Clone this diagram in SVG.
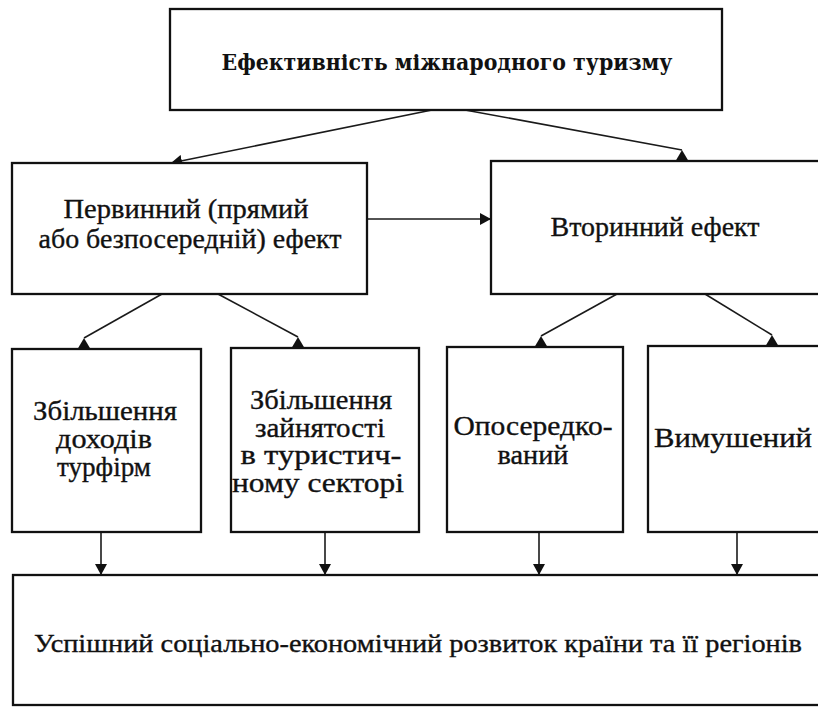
<svg xmlns="http://www.w3.org/2000/svg" width="818" height="707" viewBox="0 0 818 707">
  <style>
    .box { fill: #ffffff; stroke: #111111; stroke-width: 2.3; }
    .lbl { font-family: "Liberation Serif", "Times New Roman", serif; font-size: 27px; fill: #111111; stroke: #111111; stroke-width: 0.35; text-anchor: middle; }
    .big { font-family: "Liberation Serif", "Times New Roman", serif; font-size: 25px; fill: #111111; stroke: #111111; stroke-width: 0.35; text-anchor: middle; }
    .ttl { font-family: "DejaVu Serif", "Liberation Serif", serif; font-size: 23px; font-weight: bold; fill: #111111; text-anchor: middle; }
    .con { fill: none; stroke: #1a1a1a; stroke-width: 1.6; }
  </style>
  <defs>
    <!-- arrowhead that follows the line direction -->
    <marker id="arr" markerUnits="userSpaceOnUse" markerWidth="11" markerHeight="12" refX="11" refY="6" orient="auto">
      <path d="M0,0 L11,6 L0,12 Z" fill="#111111"/>
    </marker>
    <!-- upright triangle sitting on the box edge below the line end -->
    <marker id="up" markerUnits="userSpaceOnUse" markerWidth="13" markerHeight="11" refX="6.5" refY="0" orient="0">
      <path d="M6.5,0 L13,11 L0,11 Z" fill="#111111"/>
    </marker>
  </defs>
  <rect width="818" height="707" fill="#ffffff"/>

  <g id="connectors">
    <line class="con" x1="432" y1="110" x2="171" y2="163" marker-end="url(#arr)"/>
    <line class="con" x1="465" y1="110" x2="682" y2="150" marker-end="url(#up)"/>
    <line class="con" x1="367" y1="219" x2="491" y2="219" marker-end="url(#arr)"/>
    <line class="con" x1="162" y1="294" x2="84" y2="338" marker-end="url(#up)"/>
    <line class="con" x1="218" y1="294" x2="298" y2="337" marker-end="url(#up)"/>
    <line class="con" x1="617" y1="294" x2="541" y2="336" marker-end="url(#up)"/>
    <line class="con" x1="705" y1="294" x2="772" y2="335" marker-end="url(#up)"/>
    <line class="con" x1="101" y1="532" x2="101" y2="575" marker-end="url(#arr)"/>
    <line class="con" x1="325" y1="532" x2="325" y2="575" marker-end="url(#arr)"/>
    <line class="con" x1="539" y1="532" x2="539" y2="575" marker-end="url(#arr)"/>
    <line class="con" x1="737" y1="532" x2="737" y2="575" marker-end="url(#arr)"/>
  </g>

  <g id="node-top">
    <rect class="box" x="170" y="9" width="552" height="101"/>
    <text class="ttl" x="447" y="70" textLength="451" lengthAdjust="spacingAndGlyphs">Ефективність міжнародного туризму</text>
  </g>

  <g id="node-primary">
    <rect class="box" x="12" y="163" width="355" height="131"/>
    <text class="lbl" x="186" y="218" textLength="245" lengthAdjust="spacingAndGlyphs">Первинний (прямий</text>
    <text class="lbl" x="190" y="248" textLength="303" lengthAdjust="spacingAndGlyphs">або безпосередній) ефект</text>
  </g>

  <g id="node-secondary">
    <rect class="box" x="491" y="161" width="340" height="133"/>
    <text class="lbl" x="655" y="236" textLength="209" lengthAdjust="spacingAndGlyphs">Вторинний ефект</text>
  </g>

  <g id="node-income">
    <rect class="box" x="12" y="349" width="189" height="183"/>
    <text class="lbl" x="105" y="420" textLength="144" lengthAdjust="spacingAndGlyphs">Збільшення</text>
    <text class="lbl" x="104" y="448" textLength="96" lengthAdjust="spacingAndGlyphs">доходів</text>
    <text class="lbl" x="104" y="476" textLength="94" lengthAdjust="spacingAndGlyphs">турфірм</text>
  </g>

  <g id="node-employment">
    <rect class="box" x="231" y="348" width="188" height="184"/>
    <text class="lbl" x="321" y="409" textLength="142" lengthAdjust="spacingAndGlyphs">Збільшення</text>
    <text class="lbl" x="320" y="437" textLength="130" lengthAdjust="spacingAndGlyphs">зайнятості</text>
    <text class="lbl" x="321" y="464" textLength="161" lengthAdjust="spacingAndGlyphs">в туристич-</text>
    <text class="lbl" x="318" y="492" textLength="172" lengthAdjust="spacingAndGlyphs">ному секторі</text>
  </g>

  <g id="node-indirect">
    <rect class="box" x="447" y="347" width="176" height="185"/>
    <text class="lbl" x="533" y="435" textLength="159" lengthAdjust="spacingAndGlyphs">Опосередко-</text>
    <text class="lbl" x="533" y="464" textLength="71" lengthAdjust="spacingAndGlyphs">ваний</text>
  </g>

  <g id="node-forced">
    <rect class="box" x="648" y="346" width="200" height="186"/>
    <text class="lbl" x="733" y="447" textLength="158" lengthAdjust="spacingAndGlyphs">Вимушений</text>
  </g>

  <g id="node-result">
    <rect class="box" x="13" y="575" width="830" height="130"/>
    <text class="big" x="418" y="652" textLength="768" lengthAdjust="spacingAndGlyphs">Успішний соціально-економічний розвиток країни та її регіонів</text>
  </g>
</svg>
